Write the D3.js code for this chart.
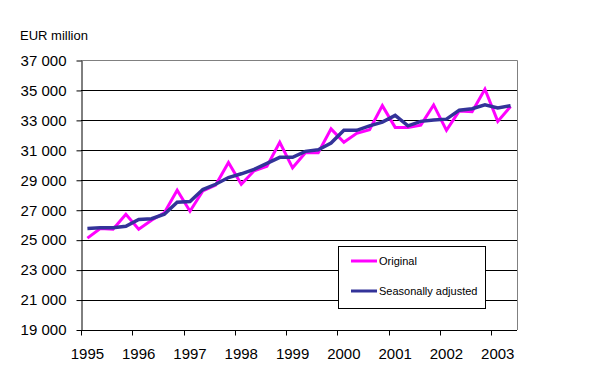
<!DOCTYPE html>
<html>
<head>
<meta charset="utf-8">
<script src="https://cdn.jsdelivr.net/npm/d3@7/dist/d3.min.js"></script>
<style>
  html, body { margin: 0; padding: 0; background: #fff; }
  svg { display: block; font-family: "Liberation Sans", Arial, sans-serif; }
</style>
</head>
<body>
<svg id="chart" width="606" height="381"></svg>
<script>
const years = ["1995","1996","1997","1998","1999","2000","2001","2002","2003"];
const quarters = ["Q1","Q2","Q3","Q4"];
const categories = [];
years.forEach(y => quarters.forEach(q => categories.push(y + q)));
categories.splice(34); // 1995Q1 .. 2003Q2

const original = [25100, 25750, 25700, 26700, 25700, 26300, 26800, 28300, 26900, 28250,
                  28650, 30150, 28700, 29600, 29900, 31500, 29800, 30800, 30800, 32400,
                  31500, 32100, 32350, 33950, 32500, 32500, 32650, 34000, 32300, 33600,
                  33550, 35050, 32900, 33900];
const seasonallyAdjusted = [25750, 25800, 25800, 25900, 26350, 26400, 26700, 27500, 27550, 28350,
                  28700, 29150, 29400, 29700, 30100, 30500, 30500, 30900, 31000, 31450,
                  32300, 32300, 32600, 32850, 33300, 32600, 32900, 33000, 33050, 33650,
                  33750, 34000, 33800, 33950];
const yTicks = [19000, 21000, 23000, 25000, 27000, 29000, 31000, 33000, 35000, 37000];
const seriesNames = ["Original", "Seasonally adjusted"];
const seriesColors = ["#FF00FF", "#333399"];

(function () {
const svg = d3.select("#chart");
const pL = 81, pR = 517, pT = 60, pB = 329.5;

const x = d3.scaleBand().domain(categories).range([pL, pR]).padding(0);
const y = d3.scaleLinear().domain([19000, 37000]).range([pB, pT]);
const fmt = v => d3.format(",")(v).replace(",", " ");

// gridlines
svg.append("g").selectAll("line").data(yTicks.filter(t => t !== 37000 && t !== 19000)).join("line")
  .attr("x1", pL).attr("x2", pR)
  .attr("y1", d => Math.round(y(d)) + 0.5).attr("y2", d => Math.round(y(d)) + 0.5)
  .attr("stroke", "#000").attr("stroke-width", 1);

// plot border top/right (gray)
svg.append("path")
  .attr("d", `M${pL},${Math.round(pT)+0.5}H${pR+0.5}V${Math.round(pB)}`)
  .attr("fill", "none").attr("stroke", "#808080").attr("stroke-width", 1);

// y axis
const yAxis = d3.axisLeft(y).tickValues(yTicks).tickSize(5).tickSizeOuter(0).tickPadding(10).tickFormat(fmt);
const gy = svg.append("g").attr("transform", `translate(${pL + 0.5},0.5)`).call(yAxis);
gy.select(".domain").attr("stroke", "#000");
gy.selectAll(".tick line").attr("stroke", "#000");
gy.selectAll(".tick text").attr("font-size", 15).attr("fill", "#000")
  .attr("font-family", "'Liberation Sans', Arial, sans-serif");

// x axis: ticks at year boundaries, labels centred on first quarter
const gx = svg.append("g");
gx.append("line").attr("x1", pL).attr("x2", pR)
  .attr("y1", Math.round(pB) + 0.5).attr("y2", Math.round(pB) + 0.5).attr("stroke", "#000");
gx.selectAll("line.t").data(years).join("line").attr("class", "t")
  .attr("x1", d => Math.round(x(d + "Q1")) + 0.5).attr("x2", d => Math.round(x(d + "Q1")) + 0.5)
  .attr("y1", Math.round(pB)).attr("y2", Math.round(pB) + 5.5).attr("stroke", "#000");
gx.selectAll("text").data(years).join("text")
  .attr("x", d => x(d + "Q1") + x.bandwidth() / 2)
  .attr("y", 359)
  .attr("text-anchor", "middle").attr("font-size", 15).attr("fill", "#000")
  .text(d => d);

// y axis title
svg.append("text").attr("x", 20).attr("y", 40).attr("font-size", 13).attr("fill", "#000").text("EUR million");

// lines
const line = d3.line().x((d, i) => x(categories[i]) + x.bandwidth() / 2).y(d => y(d));
[original, seasonallyAdjusted].forEach((s, k) => {
  svg.append("path").datum(s).attr("d", line)
    .attr("fill", "none").attr("stroke", seriesColors[k])
    .attr("stroke-width", k === 0 ? 3 : 3.5).attr("stroke-linejoin", "miter");
});

// legend
const lg = svg.append("g");
lg.append("rect").attr("x", 338.5).attr("y", 246.5).attr("width", 147).attr("height", 62)
  .attr("fill", "#fff").attr("stroke", "#000");
seriesNames.forEach((n, k) => {
  const ly = k === 0 ? 261 : 291;
  lg.append("line").attr("x1", 351).attr("x2", 377).attr("y1", ly).attr("y2", ly)
    .attr("stroke", seriesColors[k]).attr("stroke-width", 3);
  lg.append("text").attr("x", 379).attr("y", ly + 4).attr("font-size", 11).attr("fill", "#000").text(n);
});
})();
</script>
</body>
</html>
